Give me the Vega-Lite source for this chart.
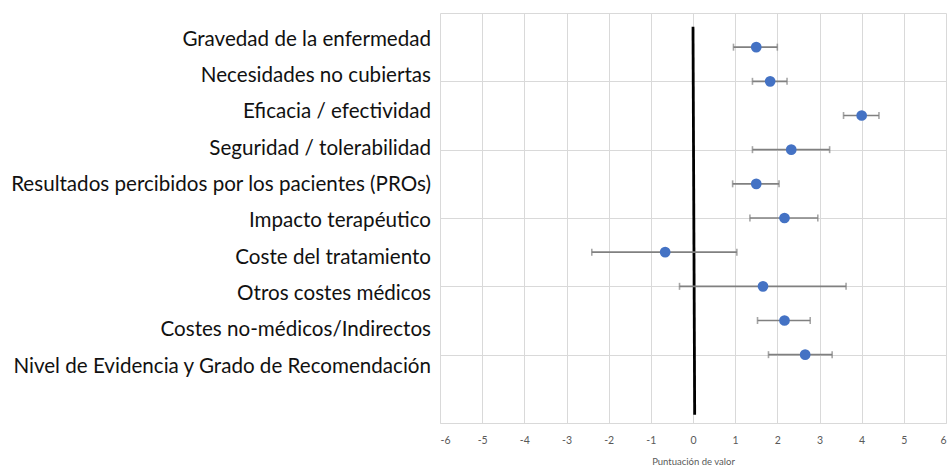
{
  "$schema": "https://vega.github.io/schema/vega-lite/v6.json",
  "width": 506,
  "height": 410,
  "autosize": {"type": "none"},
  "padding": {"left": 440, "top": 13, "right": 5, "bottom": 46},
  "background": "white",
  "config": {"view": {"stroke": null}},
  "datasets": {
    "pts": [
      {"cat": "Gravedad de la enfermedad", "pos": 11, "lab": 11.21, "val": 1.5, "lo": 0.96, "hi": 2.0},
      {"cat": "Necesidades no cubiertas", "pos": 10, "lab": 10.15, "val": 1.83, "lo": 1.41, "hi": 2.23},
      {"cat": "Eficacia / efectividad", "pos": 9, "lab": 9.09, "val": 4.0, "lo": 3.57, "hi": 4.41},
      {"cat": "Seguridad / tolerabilidad", "pos": 8, "lab": 8.02, "val": 2.33, "lo": 1.41, "hi": 3.24},
      {"cat": "Resultados percibidos por los pacientes (PROs)", "pos": 7, "lab": 6.96, "val": 1.5, "lo": 0.94, "hi": 2.04},
      {"cat": "Impacto terapéutico", "pos": 6, "lab": 5.9, "val": 2.17, "lo": 1.35, "hi": 2.96},
      {"cat": "Coste del tratamiento", "pos": 5, "lab": 4.84, "val": -0.66, "lo": -2.4, "hi": 1.04},
      {"cat": "Otros costes médicos", "pos": 4, "lab": 3.77, "val": 1.66, "lo": -0.32, "hi": 3.63},
      {"cat": "Costes no-médicos/Indirectos", "pos": 3, "lab": 2.71, "val": 2.17, "lo": 1.53, "hi": 2.78},
      {"cat": "Nivel de Evidencia y Grado de Recomendación", "pos": 2, "lab": 1.65, "val": 2.66, "lo": 1.79, "hi": 3.3}
    ],
    "zero": [{"x": 0, "x2": 0.04, "y": 11.6, "y2": 0.24}]
  },
  "layer": [
    {
      "data": {"name": "zero"},
      "mark": {"type": "rule", "color": "black", "strokeWidth": 2.8},
      "encoding": {
        "x": {"field": "x", "type": "quantitative",
          "scale": {"domain": [-6, 6], "nice": false, "zero": false},
          "axis": {"values": [-6,-5,-4,-3,-2,-1,0,1,2,3,4,5,6], "title": "Puntuación de valor",
            "labelExpr": "'' + datum.value",
            "grid": true, "gridColor": "#d9d9d9", "gridWidth": 1, "ticks": false,
            "domain": true, "domainColor": "#d9d9d9", "domainWidth": 1,
            "labelColor": "#595959", "labelFont": "Lato", "labelFontSize": 10.5, "labelPadding": 12,
            "titleColor": "#595959", "titleFont": "Lato", "titleFontSize": 9.5, "titleFontWeight": "normal", "titlePadding": 11}},
        "x2": {"field": "x2"},
        "y": {"field": "y", "type": "quantitative",
          "scale": {"domain": [0, 12], "nice": false, "zero": false},
          "axis": {"values": [0, 2, 4, 6, 8, 10, 12], "grid": true, "gridColor": "#d9d9d9", "gridWidth": 1,
            "labels": false, "ticks": false, "domain": false, "title": null}},
        "y2": {"field": "y2"}
      }
    },
    {
      "data": {"name": "pts"},
      "mark": {"type": "rule", "color": "#808080", "strokeWidth": 1.6},
      "encoding": {
        "x": {"field": "lo", "type": "quantitative"},
        "x2": {"field": "hi"},
        "y": {"field": "pos", "type": "quantitative"}
      }
    },
    {
      "data": {"name": "pts"},
      "mark": {"type": "tick", "orient": "vertical", "color": "#808080", "size": 7, "thickness": 1.6},
      "encoding": {
        "x": {"field": "lo", "type": "quantitative"},
        "y": {"field": "pos", "type": "quantitative"}
      }
    },
    {
      "data": {"name": "pts"},
      "mark": {"type": "tick", "orient": "vertical", "color": "#808080", "size": 7, "thickness": 1.6},
      "encoding": {
        "x": {"field": "hi", "type": "quantitative"},
        "y": {"field": "pos", "type": "quantitative"}
      }
    },
    {
      "data": {"name": "pts"},
      "mark": {"type": "circle", "color": "#4472C4", "opacity": 1, "size": 115},
      "encoding": {
        "x": {"field": "val", "type": "quantitative"},
        "y": {"field": "pos", "type": "quantitative"}
      }
    },
    {
      "data": {"name": "pts"},
      "mark": {"type": "text", "align": "right", "baseline": "middle", "font": "Lato", "fontSize": 20.6, "color": "#111111", "dx": -9},
      "encoding": {
        "x": {"datum": -6, "type": "quantitative"},
        "y": {"field": "lab", "type": "quantitative"},
        "text": {"field": "cat"}
      }
    }
  ]
}
